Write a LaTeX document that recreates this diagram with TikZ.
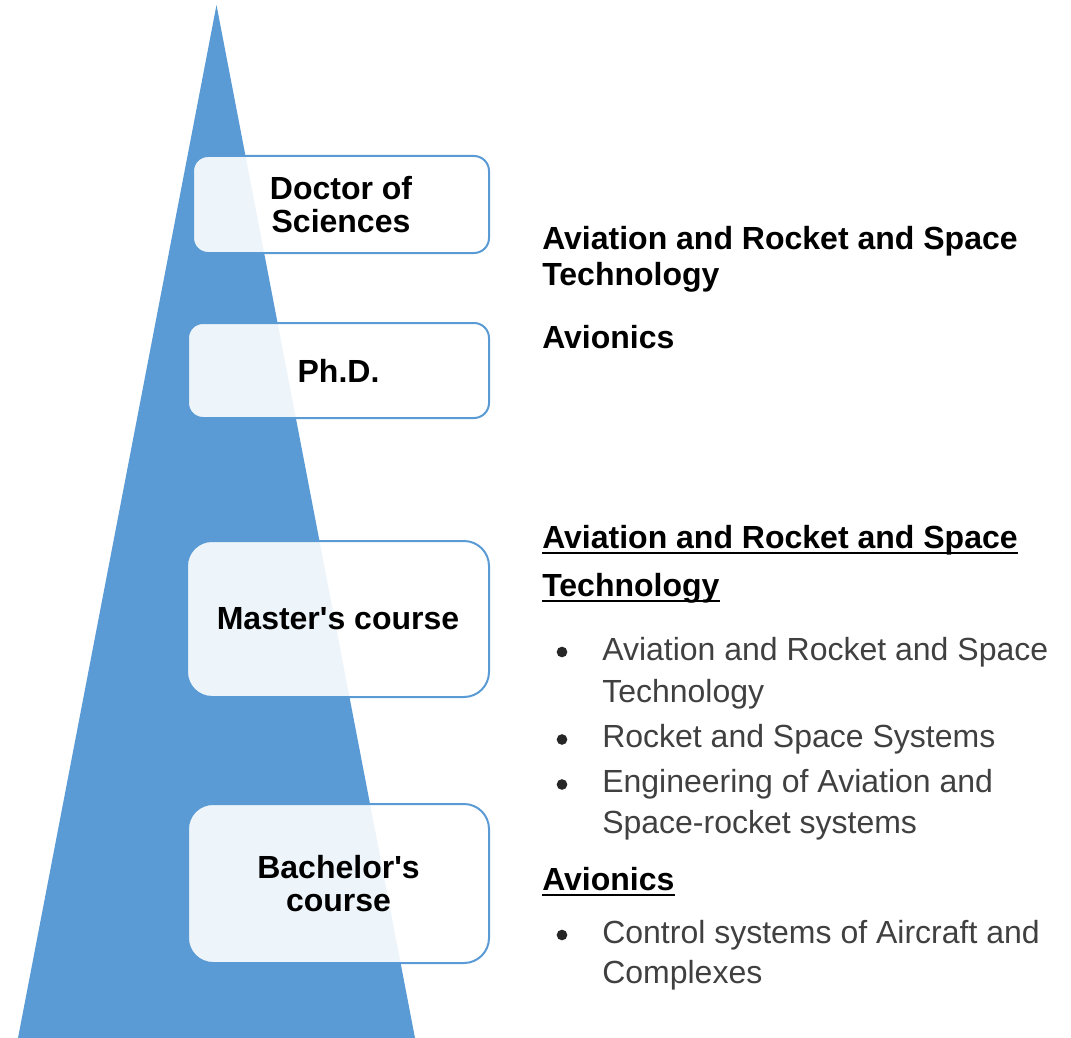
\documentclass[tikz,border=0pt]{standalone}
\usepackage{fontspec}
\setmainfont{Liberation Sans}[Ligatures=TeXOff]
\definecolor{triblue}{HTML}{5B9BD5}
\definecolor{boxblue}{HTML}{5B9BD5}
\definecolor{itemgrey}{HTML}{404040}
\begin{document}
\begin{tikzpicture}[x=0.75pt,y=-0.75pt,
  lvl/.style={draw=boxblue, line width=1.5pt, fill=white, fill opacity=0.9, text opacity=1,
    align=center, inner sep=0pt, font=\fontsize{24pt}{24.75pt}\selectfont\bfseries},
  head/.style={anchor=base west, inner sep=0pt, font=\fontsize{24pt}{27pt}\selectfont\bfseries},
  item/.style={anchor=base west, inner sep=0pt, text=itemgrey, font=\fontsize{24pt}{30pt}\selectfont},
  uline/.style={line width=1.5pt, black},
  dotc/.style={fill=black!85}
]
\useasboundingbox (0,0) rectangle (1071,1038);
% pyramid
\fill[triblue] (216.5,5) -- (415,1038) -- (18,1038) -- cycle;
% levels
\node[lvl, rounded corners=11.25pt, minimum width=222pt, minimum height=72.75pt] (doc) at (341,204.5) {Doctor of\\Sciences};
\node[lvl, rounded corners=11.25pt, minimum width=225.75pt, minimum height=71.25pt] (phd) at (338.5,370.5) {Ph.D.};
\node[lvl, rounded corners=18.75pt, minimum width=226.5pt, minimum height=117pt] (mas) at (338,619) {Master's course};
\node[lvl, rounded corners=18.75pt, minimum width=225.75pt, minimum height=119.25pt] (bac) at (338.5,883.5) {Bachelor's\\course};
% right column, top
\node[head] (r1a) at (542,249) {Aviation and Rocket and Space};
\node[head] (r1b) at (542,285) {Technology};
\node[head] (r2) at (542,348) {Avionics};
% master's heading
\node[head] (u1a) at (542,548) {Aviation and Rocket and Space};
\node[head] (u1b) at (542,596) {Technology};
\draw[uline] ([yshift=-3.5pt]u1a.base west) -- ([yshift=-3.5pt]u1a.base east);
\draw[uline] ([yshift=-3.5pt]u1b.base west) -- ([yshift=-3.5pt]u1b.base east);
% master's items
\node[item] (b1a) at (602,660) {Aviation and Rocket and Space};
\node[item] (b1b) at (602,702.5) {Technology};
\node[item] (b2) at (602,747.5) {Rocket and Space Systems};
\node[item] (b3a) at (602,792.5) {Engineering of Aviation and};
\node[item] (b3b) at (602,833.5) {Space-rocket systems};
\fill[dotc] (562,652) circle[radius=4pt];
\fill[dotc] (562,739.5) circle[radius=4pt];
\fill[dotc] (562,784.5) circle[radius=4pt];
% bachelor heading
\node[head] (u2) at (542,890) {Avionics};
\draw[uline] ([yshift=-4pt]u2.base west) -- ([yshift=-4pt]u2.base east);
\node[item] (c1a) at (602,943) {Control systems of Aircraft and};
\node[item] (c1b) at (602,983.5) {Complexes};
\fill[dotc] (562,935) circle[radius=4pt];
\end{tikzpicture}
\end{document}
